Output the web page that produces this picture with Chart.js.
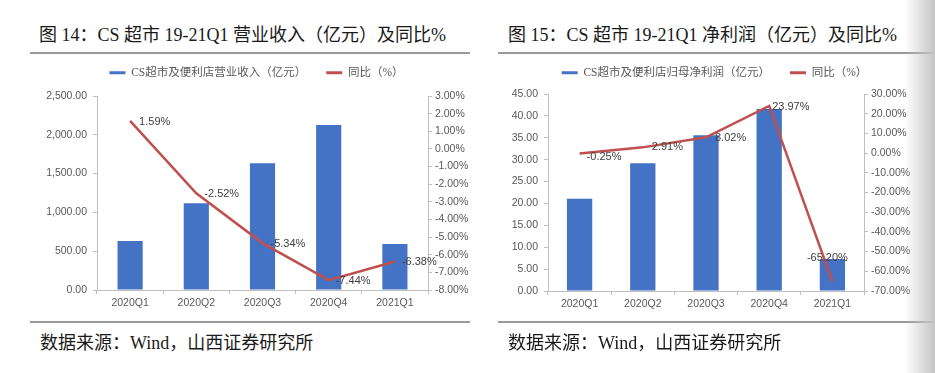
<!DOCTYPE html>
<html>
<head>
<meta charset="utf-8">
<script src="https://cdn.jsdelivr.net/npm/chart.js@4.4.0/dist/chart.umd.min.js"></script>
<style>
  body { margin:0; width:935px; height:373px; background:#fff; position:relative; overflow:hidden;
         font-family:"Liberation Serif","Noto Sans CJK SC",serif; }
  .title { position:absolute; top:24px; font-size:18px; line-height:22px; color:#1a1a1a; white-space:nowrap; }
  .rule { position:absolute; height:0; border-top:2px solid #9a9a9a; }
  .src { position:absolute; top:332px; font-size:18px; line-height:22px; color:#1a1a1a; white-space:nowrap; }
  canvas { position:absolute; }
  .edge { position:absolute; left:905px; top:0; width:30px; height:373px;
          background:linear-gradient(to right, rgba(255,255,255,0), #c4c4c4); }
</style>
</head>
<body>
<div class="title" style="left:39px">图 14：CS 超市 19-21Q1 营业收入（亿元）及同比%</div>
<div class="rule" style="left:30px; width:440px; top:52px"></div>
<div class="title" style="left:508px">图 15：CS 超市 19-21Q1 净利润（亿元）及同比%</div>
<div class="rule" style="left:498px; width:437px; top:52px"></div>

<canvas id="c1" width="470" height="260" style="left:12px; top:60px"></canvas>
<canvas id="c2" width="465" height="260" style="left:470px; top:60px"></canvas>

<div class="rule" style="left:30px; width:440px; top:321px"></div>
<div class="rule" style="left:498px; width:437px; top:321px"></div>
<div class="src" style="left:40px">数据来源：Wind，山西证券研究所</div>
<div class="src" style="left:508px">数据来源：Wind，山西证券研究所</div>
<div class="edge"></div>

<script>
// ---------- data ----------
const categories = ['2020Q1', '2020Q2', '2020Q3', '2020Q4', '2021Q1'];

const revenueLabel = 'CS超市及便利店营业收入（亿元）';
const revenue = [631, 1117, 1632, 2126, 593];
const revenueYoYLabel = '同比（%）';
const revenueYoY = [1.59, -2.52, -5.34, -7.44, -6.38];

const profitLabel = 'CS超市及便利店归母净利润（亿元）';
const profit = [21.05, 29.2, 35.6, 41.6, 7.3];
const profitYoYLabel = '同比（%）';
const profitYoY = [-0.25, 2.91, 8.02, 23.97, -65.20];

const revenueTicks = [0, 500, 1000, 1500, 2000, 2500];
const revenueYoYTicks = [-8, -7, -6, -5, -4, -3, -2, -1, 0, 1, 2, 3];
const profitTicks = [0, 5, 10, 15, 20, 25, 30, 35, 40, 45];
const profitYoYTicks = [-70, -60, -50, -40, -30, -20, -10, 0, 10, 20, 30];

// ---------- styles ----------
Chart.defaults.font.family = '"Liberation Sans","Noto Sans CJK SC",sans-serif';
Chart.defaults.color = '#595959';
const BAR = '#4472C4';
const LINE = '#C0504D';
const AXIS = '#bfbfbf';
const LEG_PAD = 20;

const valueLabels = {
  id: 'valueLabels',
  afterDatasetsDraw(chart, args, opts) {
    const ctx = chart.ctx;
    chart.data.datasets.forEach((ds, di) => {
      if (ds.type !== 'line') return;
      const meta = chart.getDatasetMeta(di);
      ctx.save();
      ctx.font = '11px "Liberation Sans", sans-serif';
      ctx.fillStyle = '#404040';
      ctx.textBaseline = 'middle';
      meta.data.forEach((pt, i) => {
        const o = (opts.offsets && opts.offsets[i]) || [8, 1, 'left'];
        ctx.textAlign = o[2] || 'left';
        ctx.fillText(ds.data[i].toFixed(2) + '%', pt.x + o[0], pt.y + o[1]);
      });
      ctx.restore();
    });
  }
};

function legendSpacer(extra) {
  return {
    id: 'legendSpacer',
    beforeInit(chart) {
      const orig = chart.legend.fit;
      chart.legend.fit = function () { orig.bind(chart.legend)(); this.height += extra; };
    }
  };
}

function makeChart(id, cfg) {
  const leftTicks = cfg.leftTicks, rightTicks = cfg.rightTicks;
  return new Chart(document.getElementById(id), {
    data: {
      labels: categories,
      datasets: [
        { type: 'bar', label: cfg.barLabel, data: cfg.bars, backgroundColor: BAR,
          yAxisID: 'y', order: 1, barPercentage: cfg.barPct, categoryPercentage: 1 },
        { type: 'line', label: cfg.lineLabel, data: cfg.line, borderColor: LINE, backgroundColor: LINE,
          borderWidth: 2.5, pointRadius: 0, tension: 0, yAxisID: 'y1', order: 0 }
      ]
    },
    options: {
      responsive: false, animation: false, devicePixelRatio: 1,
      layout: { padding: { top: 7 - LEG_PAD, left: cfg.padLeft, right: 0, bottom: 0 } },
      plugins: {
        tooltip: { enabled: false },
        legend: {
          position: 'top',
          labels: {
            boxWidth: 16, boxHeight: 3, padding: LEG_PAD,
            font: { size: 11.5, family: '"Liberation Serif","Noto Sans CJK SC",serif' },
            color: '#595959',
            sort: (a, b) => a.datasetIndex - b.datasetIndex,
            generateLabels(chart) {
              const items = Chart.defaults.plugins.legend.labels.generateLabels(chart);
              items.forEach(it => { it.lineWidth = 0; });
              return items;
            }
          }
        },
        valueLabels: { offsets: cfg.offsets }
      },
      scales: {
        x: {
          offset: true,
          grid: { display: true, drawOnChartArea: false, drawTicks: true, tickLength: 4, color: AXIS, offset: true },
          border: { color: AXIS },
          ticks: { font: { size: 10.5 }, padding: 3, color: '#595959' },
          afterFit(s) { s.height = cfg.xHeight; }
        },
        y: {
          position: 'left',
          min: leftTicks[0], max: leftTicks[leftTicks.length - 1],
          afterBuildTicks(s) { s.ticks = leftTicks.map(v => ({ value: v })); },
          grid: { display: true, drawOnChartArea: false, tickLength: 4, color: AXIS },
          border: { color: AXIS },
          ticks: { font: { size: 10.5 }, padding: 6, color: '#595959', callback: cfg.leftFmt },
          afterFit(s) { s.width = cfg.leftW; }
        },
        y1: {
          position: 'right',
          min: rightTicks[0], max: rightTicks[rightTicks.length - 1],
          afterBuildTicks(s) { s.ticks = rightTicks.map(v => ({ value: v })); },
          grid: { display: true, drawOnChartArea: false, tickLength: 4, color: AXIS },
          border: { color: AXIS },
          ticks: { font: { size: 10.5 }, padding: 3, color: '#595959', callback: v => v.toFixed(2) + '%' },
          afterFit(s) { s.width = cfg.rightW; }
        }
      }
    },
    plugins: [valueLabels, legendSpacer(cfg.legendExtra)]
  });
}

makeChart('c1', {
  barLabel: revenueLabel, lineLabel: revenueYoYLabel,
  bars: revenue, line: revenueYoY,
  leftTicks: revenueTicks, rightTicks: revenueYoYTicks,
  leftFmt: v => v.toLocaleString('en-US', { minimumFractionDigits: 2, maximumFractionDigits: 2 }),
  barPct: 0.38, xHeight: 30, padLeft: 19, leftW: 66, rightW: 54, legendExtra: 7.5,
  offsets: [[9, 1], [8, 1], [8, 1], [7, 1], [7, 1]]
});

makeChart('c2', {
  barLabel: profitLabel, lineLabel: profitYoYLabel,
  bars: profit, line: profitYoY,
  leftTicks: profitTicks, rightTicks: profitYoYTicks,
  leftFmt: v => v.toFixed(2),
  barPct: 0.4, xHeight: 29, padLeft: 24, leftW: 54, rightW: 71, legendExtra: 5.5,
  offsets: [[7, 3], [9, 0], [9, 1], [3, 1], [-5, -24, 'center']]
});
</script>
</body>
</html>
